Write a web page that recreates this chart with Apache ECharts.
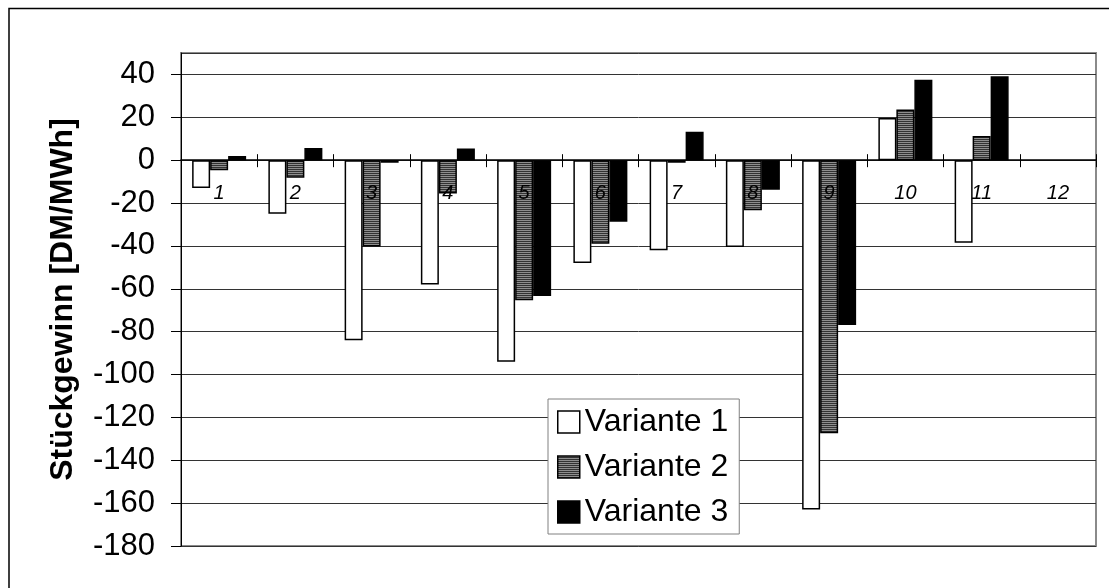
<!DOCTYPE html>
<html>
<head>
<meta charset="utf-8">
<script src="https://cdn.jsdelivr.net/npm/echarts@6/dist/echarts.min.js"></script>
<style>
html,body{margin:0;padding:0;background:#fff;}
#c{width:1109px;height:588px;}
</style>
</head>
<body>
<div id="c"></div>
<script>
var categories = ['1','2','3','4','5','6','7','8','9','10','11','12'];
var variante1 = [-13, -25, -84, -58, -94, -48, -42, -40.5, -163, 19.7, -38.5, null];
var variante2 = [-4.7, -8.2, -40.3, -15.5, -65.3, -39, -1.2, -23.4, -127.4, 23.6, 11.3, null];
var variante3 = [1.9, 5.7, -1.2, 5.4, -63.4, -28.7, 13.3, -13.8, -76.9, 37.5, 39.2, null];
var seriesNames = ['Variante 1', 'Variante 2', 'Variante 3'];
var yAxisTitle = 'Stückgewinn [DM/MWh]';
var yMin = -180, yMax = 50, yStep = 20;

var pc = document.createElement('canvas');
pc.width = 4; pc.height = 2;
var pctx = pc.getContext('2d');
pctx.fillStyle = '#8e8e8e'; pctx.fillRect(0,0,4,1);
pctx.fillStyle = '#333333'; pctx.fillRect(0,1,4,1);
var stripe = {image: pc, repeat: 'repeat'};

var font = '"Liberation Sans", Arial, sans-serif';
var W = 1109, H = 588, gTop = 53, gBottom = 42, gLeft = 181, gRight = 13;
var gridH = H - gTop - gBottom;
// distance of the zero line above the bottom of the grid, from the value scale
var zeroOffset = gridH * (0 - yMin) / (yMax - yMin);

var chart = echarts.init(document.getElementById('c'), null, {renderer: 'canvas'});
function barSeries(name, data, color) {
  return {
    name: name, type: 'bar', data: data, xAxisIndex: 0, yAxisIndex: 0,
    barWidth: 18, barGap: '0%',
    itemStyle: {color: color, borderColor: '#000', borderWidth: 1.5},
    emphasis: {disabled: true}, animation: false
  };
}
chart.setOption({
  animation: false,
  textStyle: {fontFamily: font},
  graphic: [{
    type: 'rect', shape: {x: 9, y: 8.5, width: 1300, height: 800},
    style: {fill: 'none', stroke: '#000', lineWidth: 1.5}, z: -10, silent: true
  }],
  grid: {left: gLeft, top: gTop, right: gRight, bottom: gBottom, show: true,
    borderColor: '#8a8a8a', borderWidth: 2, backgroundColor: 'transparent'},
  legend: {
    orient: 'vertical', left: 548, top: 399,
    data: seriesNames.map(function(n){return {name: n, icon: 'rect'};}),
    itemWidth: 22, itemHeight: 22, itemGap: 13,
    padding: [7, 11, 6, 9],
    backgroundColor: '#fff', borderColor: '#808080', borderWidth: 1,
    textStyle: {fontSize: 32, color: '#000', fontFamily: font},
    itemStyle: {borderColor: '#000', borderWidth: 1.5},
    selectedMode: false
  },
  xAxis: [{
    type: 'category', data: categories, position: 'bottom', z: 3,
    offset: -zeroOffset,
    axisLine: {onZero: false, lineStyle: {color: '#000', width: 1.5}},
    axisTick: {show: true, inside: false, length: 7, lineStyle: {color: '#000', width: 1}},
    axisLabel: {fontSize: 20, fontStyle: 'italic', color: '#000', margin: 23, fontFamily: font},
    splitLine: {show: false}
  }, {
    type: 'category', data: categories, position: 'bottom', z: 3,
    offset: -zeroOffset,
    axisLine: {onZero: false, show: false},
    axisTick: {show: true, inside: true, length: 6, lineStyle: {color: '#000', width: 1}},
    axisLabel: {show: false},
    splitLine: {show: false}
  }],
  yAxis: [{
    type: 'value', min: yMin, max: yMax, interval: yStep,
    name: yAxisTitle, nameLocation: 'middle', nameGap: 102,
    nameTextStyle: {fontSize: 32, fontWeight: 'bold', color: '#000', fontFamily: font},
    axisLine: {show: true, onZero: false, lineStyle: {color: '#000', width: 1}},
    axisTick: {show: true, length: 10, lineStyle: {color: '#000'}},
    axisLabel: {fontSize: 31, color: '#000', margin: 26, showMaxLabel: false, fontFamily: font},
    splitLine: {show: true, lineStyle: {color: '#333', width: 1}}
  }],
  series: [
    barSeries(seriesNames[0], variante1, '#ffffff'),
    barSeries(seriesNames[1], variante2, stripe),
    barSeries(seriesNames[2], variante3, '#000000')
  ]
});
</script>
</body>
</html>
